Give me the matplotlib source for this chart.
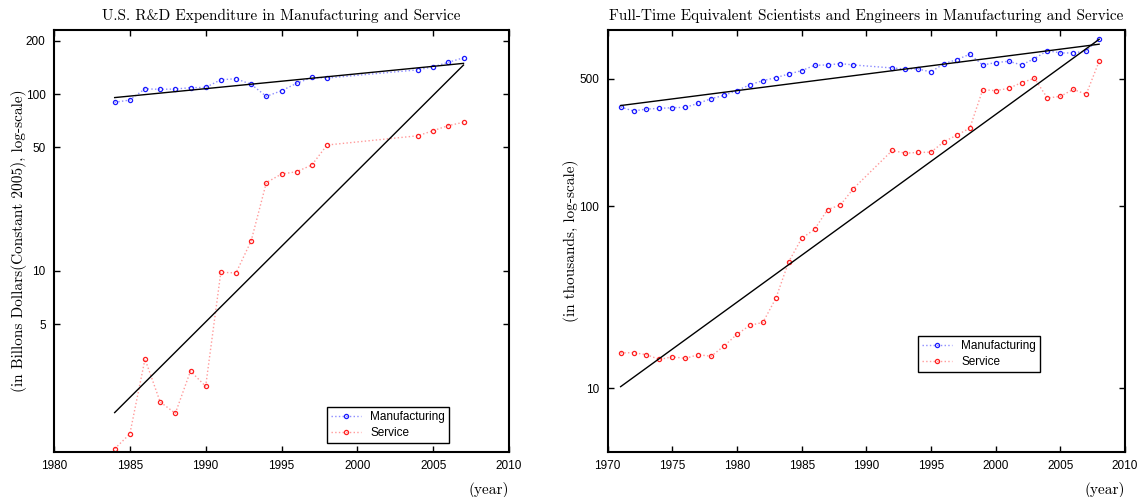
import numpy as np
import matplotlib
matplotlib.use("Agg")
from matplotlib import pyplot as plt
from matplotlib.ticker import FixedLocator, NullLocator, FixedFormatter

# R&D expenditure (billions, constant 2005)
rd_years = [1984, 1985, 1986, 1987, 1988, 1989, 1990, 1991, 1992, 1993,
            1994, 1995, 1996, 1997, 1998, 2004, 2005, 2006, 2007]
rd_manuf = [89.8, 92.5, 107, 106.3, 106.7, 108.6, 109, 120.4, 122, 113.4,
            97, 104.4, 114.9, 124.2, 123.1, 137, 142.6, 151, 160.3]
rd_serv = [0.99, 1.2, 3.18, 1.82, 1.57, 2.72, 2.23, 9.84, 9.75, 14.8,
           31.6, 35.3, 36.4, 39.7, 51.5, 58.1, 62.1, 66.3, 69.2]

# full-time equivalent scientists and engineers (thousands)
fte_years = list(range(1971, 1990)) + list(range(1992, 2009))
fte_manuf = [350.7, 333.4, 341.9, 344.9, 347.7, 349.3, 367.4, 389.8, 406.6, 431.3,
             465.4, 489.7, 508.5, 532.7, 555.7, 594.6, 597.2, 607.4, 597,
             574.8, 567.5, 567.5, 546.4, 607.4, 638.9, 683.4, 597, 615.1, 625.6,
             597, 647, 715.8, 695, 695, 712.9, 833.7]
fte_serv = [15.65, 15.7, 15.3, 14.4, 14.9, 14.6, 15.3, 15.0, 17.1, 19.8,
            22.2, 23.0, 31.2, 49.6, 66.7, 74.7, 95.9, 101.7, 125.1,
            202.5, 195.7, 197.4, 198.3, 226, 245.9, 268.7, 436.8, 431.3, 444.2,
            477.3, 504.3, 392.9, 401.3, 438.6, 411.8, 625.6]

serif = 'cmr10'
sans = 'Liberation Sans'

fig = plt.figure(figsize=(11.46, 4.97), dpi=100)
ax1 = fig.add_axes([54/1146, 45/497, 455/1146, 422/497])
ax2 = fig.add_axes([607.7/1146, 45/497, 517.3/1146, 422/497])


def draw(ax, years, manuf, serv, xt, yt, xlim, ylim, title, ylabel, ylab_x, leg_anchor):
    yrs = np.array(years, dtype=float)
    ax.plot(years, manuf, linestyle=':', color='#8c8cff', lw=1, marker='o', ms=3,
            mec='#1a1aff', mfc='none', mew=0.9, label='Manufacturing')
    ax.plot(years, serv, linestyle=':', color='#ff9a9a', lw=1, marker='o', ms=3,
            mec='#ff2020', mfc='none', mew=0.9, label='Service')
    # least squares trend in log space
    for vals in (manuf, serv):
        p = np.polyfit(yrs, np.log10(vals), 1)
        xs = np.array([yrs[0], yrs[-1]])
        ax.plot(xs, 10 ** np.polyval(p, xs), color='black', lw=1)
    ax.set_yscale('log')
    ax.set_xlim(*xlim)
    ax.set_ylim(*ylim)
    ax.xaxis.set_major_locator(FixedLocator(xt))
    ax.yaxis.set_major_locator(FixedLocator(yt))
    ax.yaxis.set_major_formatter(FixedFormatter([str(v) for v in yt]))
    ax.yaxis.set_minor_locator(NullLocator())
    ax.tick_params(direction='in', top=True, right=True, length=4, width=1,
                   labelsize=8.5, pad=6)
    for lab in ax.get_xticklabels() + ax.get_yticklabels():
        lab.set_family(sans)
    for s in ax.spines.values():
        s.set_linewidth(1.5)
    ax.set_title(title, family=serif, fontsize=11, pad=7)
    ax.set_ylabel(ylabel, family=serif, fontsize=11)
    ax.yaxis.set_label_coords(ylab_x, 0.5)
    ax.text(1.0, -0.09, '(year)', transform=ax.transAxes, ha='right', va='center',
            family=serif, fontsize=11)
    leg = ax.legend(loc='lower right', bbox_to_anchor=leg_anchor, borderaxespad=0,
                    fancybox=False, edgecolor='black', framealpha=1,
                    prop={'family': sans, 'size': 8.5}, handlelength=2.5,
                    borderpad=0.35, labelspacing=0.3)
    leg.get_frame().set_linewidth(1)


draw(ax1, rd_years, rd_manuf, rd_serv, list(range(1980, 2011, 5)), [5, 10, 50, 100, 200],
     (1980, 2010), (0.949, 230), 'U.S. R&D Expenditure in Manufacturing and Service',
     '(in Billons Dollars(Constant 2005), log-scale)', -0.06, (0.868, 0.021))
draw(ax2, fte_years, fte_manuf, fte_serv, list(range(1970, 2011, 5)), [10, 100, 500],
     (1970, 2010), (4.47, 929),
     'Full-Time Equivalent Scientists and Engineers in Manufacturing and Service',
     '(in thousands, log-scale)', -0.056, ((1040 - 607.7) / 517.3, (452 - 372) / 422))

fig.savefig('out.png', dpi=100)
